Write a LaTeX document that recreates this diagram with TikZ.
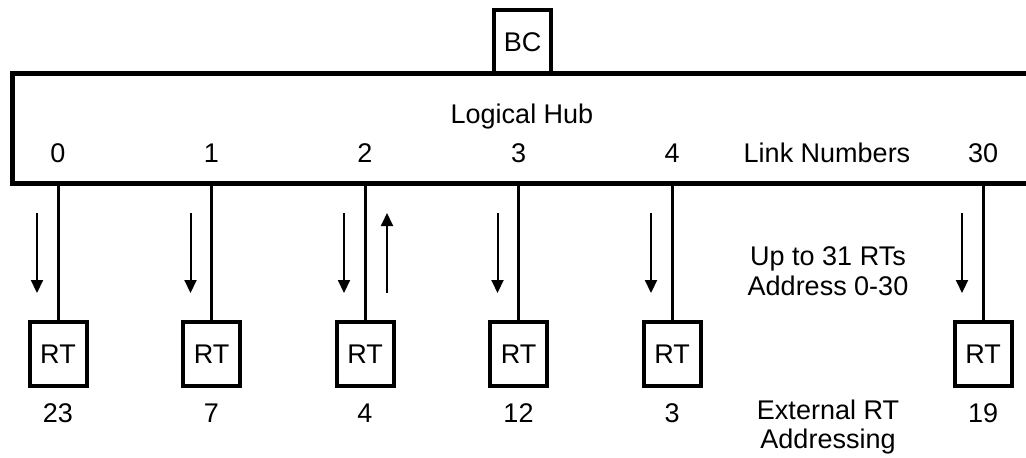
\documentclass[tikz,border=0pt]{standalone}
\usepackage{fontspec}
\setmainfont{Liberation Sans}
\usetikzlibrary{arrows.meta}

\begin{document}
\begin{tikzpicture}[x=0.5pt, y=-0.5pt,
    unit/.style={draw, line width=2pt, minimum width=28.5pt, minimum height=32pt, inner sep=0pt, font=\fontsize{13.5}{15}\selectfont},
    lbl/.style={font=\fontsize{13.5}{15}\selectfont, align=center, inner sep=0pt},
    wire/.style={line width=1.5pt},
    flow/.style={line width=1pt, -{Triangle[width=6pt,length=6.5pt]}}]
    \useasboundingbox (0,0) rectangle (1026,457);

    % hub (open to the right)
    \draw[line width=2.5pt] (1040,73.5) -- (12,73.5) -- (12,183.5) -- (1040,183.5);
    \node[unit, minimum height=31.75pt] (bc) at (522.5,41.75) {BC};
    \node[lbl] (hub) at (522,117) {Logical Hub};
    \node[lbl] (linknums) at (827,153) {Link Numbers};

    % links, remote terminals and their addresses
    \foreach \x/\k/\a [count=\i] in {58/0/23, 211.5/1/7, 365/2/4, 518.5/3/12, 672/4/3, 983/30/19} {
        \node[lbl] (num\i) at (\x,153) {\k};
        \coordinate (link\i) at (\x,183.5);
        \node[unit] (rt\i) at (\x,354) {RT};
        \node[lbl] (addr\i) at (\x,413) {\a};
        \draw[wire] (link\i) -- (rt\i);
        \draw[flow] (\x-21,213) -- (\x-21,293);
    }
    \draw[flow] (387,293) -- (387,213);

    % notes
    \node[lbl] (range) at (828,271) {Up to 31 RTs\\Address 0-30};
    \node[lbl, font=\fontsize{13.5}{14.2}\selectfont] (ext) at (828,427) {External RT\\Addressing};
\end{tikzpicture}
\end{document}
